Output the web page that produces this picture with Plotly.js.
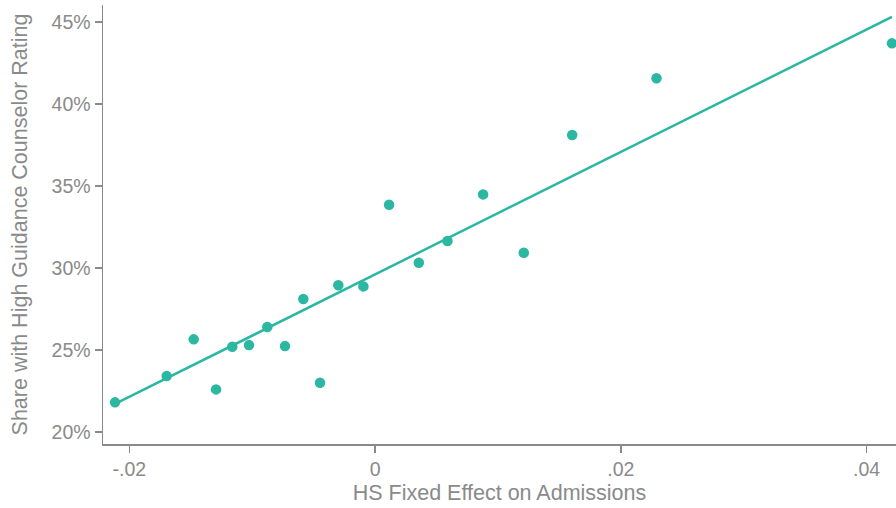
<!DOCTYPE html>
<html>
<head>
<meta charset="utf-8">
<script src="https://cdn.plot.ly/plotly-3.0.1.min.js"></script>
<style>html,body{margin:0;padding:0;background:#fff;}#chart{width:896px;height:508px;}</style>
</head>
<body>
<div id="chart"></div>
<script>
// HS fixed effect on admissions (x) vs share with high guidance counselor rating (%)
const hsFixedEffect = [-0.02116, -0.01696, -0.01476, -0.01294, -0.01162, -0.01026, -0.00877, -0.00733, -0.00584, -0.00448,
  -0.00299, -0.00095, 0.00114, 0.00356, 0.00589, 0.00879, 0.01210, 0.01604, 0.02290, 0.04206];
const shareHighRating = [21.81, 23.41, 25.65, 22.60, 25.20, 25.30, 26.40, 25.24, 28.11, 23.01,
  28.95, 28.88, 33.86, 30.32, 31.65, 34.49, 30.93, 38.11, 41.57, 43.70];
const fitX = [-0.02116, 0.04206];
const fitY = [21.71, 45.32];
const xTickVals = [-0.02, 0, 0.02, 0.04];
const xTickText = ['-.02', '0', '.02', '.04'];
const yTickVals = [20, 25, 30, 35, 40, 45];
const yTickText = ['20%', '25%', '30%', '35%', '40%', '45%'];

const teal = '#2bb7a1';
const gray = '#8a8a8a';
const font = 'Helvetica Neue, Liberation Sans, Arial, sans-serif';

const traces = [
  {x: fitX, y: fitY, type: 'scatter', mode: 'lines', line: {color: teal, width: 2.5}, hoverinfo: 'skip'},
  {x: hsFixedEffect, y: shareHighRating, type: 'scatter', mode: 'markers', marker: {color: teal, size: 10.5}}
];

const axisCommon = {
  showgrid: false, zeroline: false, showline: true, linecolor: gray, linewidth: 1.5,
  ticks: 'outside', ticklen: 7, tickwidth: 1.5, tickcolor: gray,
  tickfont: {family: font, size: 19.5, color: gray}, tickmode: 'array'
};

const layout = {
  width: 896, height: 508,
  margin: {l: 103, r: 0, t: 5, b: 64},
  paper_bgcolor: '#fff', plot_bgcolor: '#fff',
  showlegend: false,
  font: {family: font, color: gray},
  xaxis: Object.assign({}, axisCommon, {
    range: [-0.02214, 0.04239], tickvals: xTickVals, ticktext: xTickText,
    title: {text: 'HS Fixed Effect on Admissions', font: {family: font, size: 21.5, color: gray}, standoff: 6}
  }),
  yaxis: Object.assign({}, axisCommon, {
    range: [19.27, 46.04], tickvals: yTickVals, ticktext: yTickText,
    title: {text: 'Share with High Guidance Counselor Rating', font: {family: font, size: 21.5, color: gray}, standoff: 18}
  })
};

Plotly.newPlot('chart', traces, layout, {displayModeBar: false, staticPlot: true});
</script>
</body>
</html>
